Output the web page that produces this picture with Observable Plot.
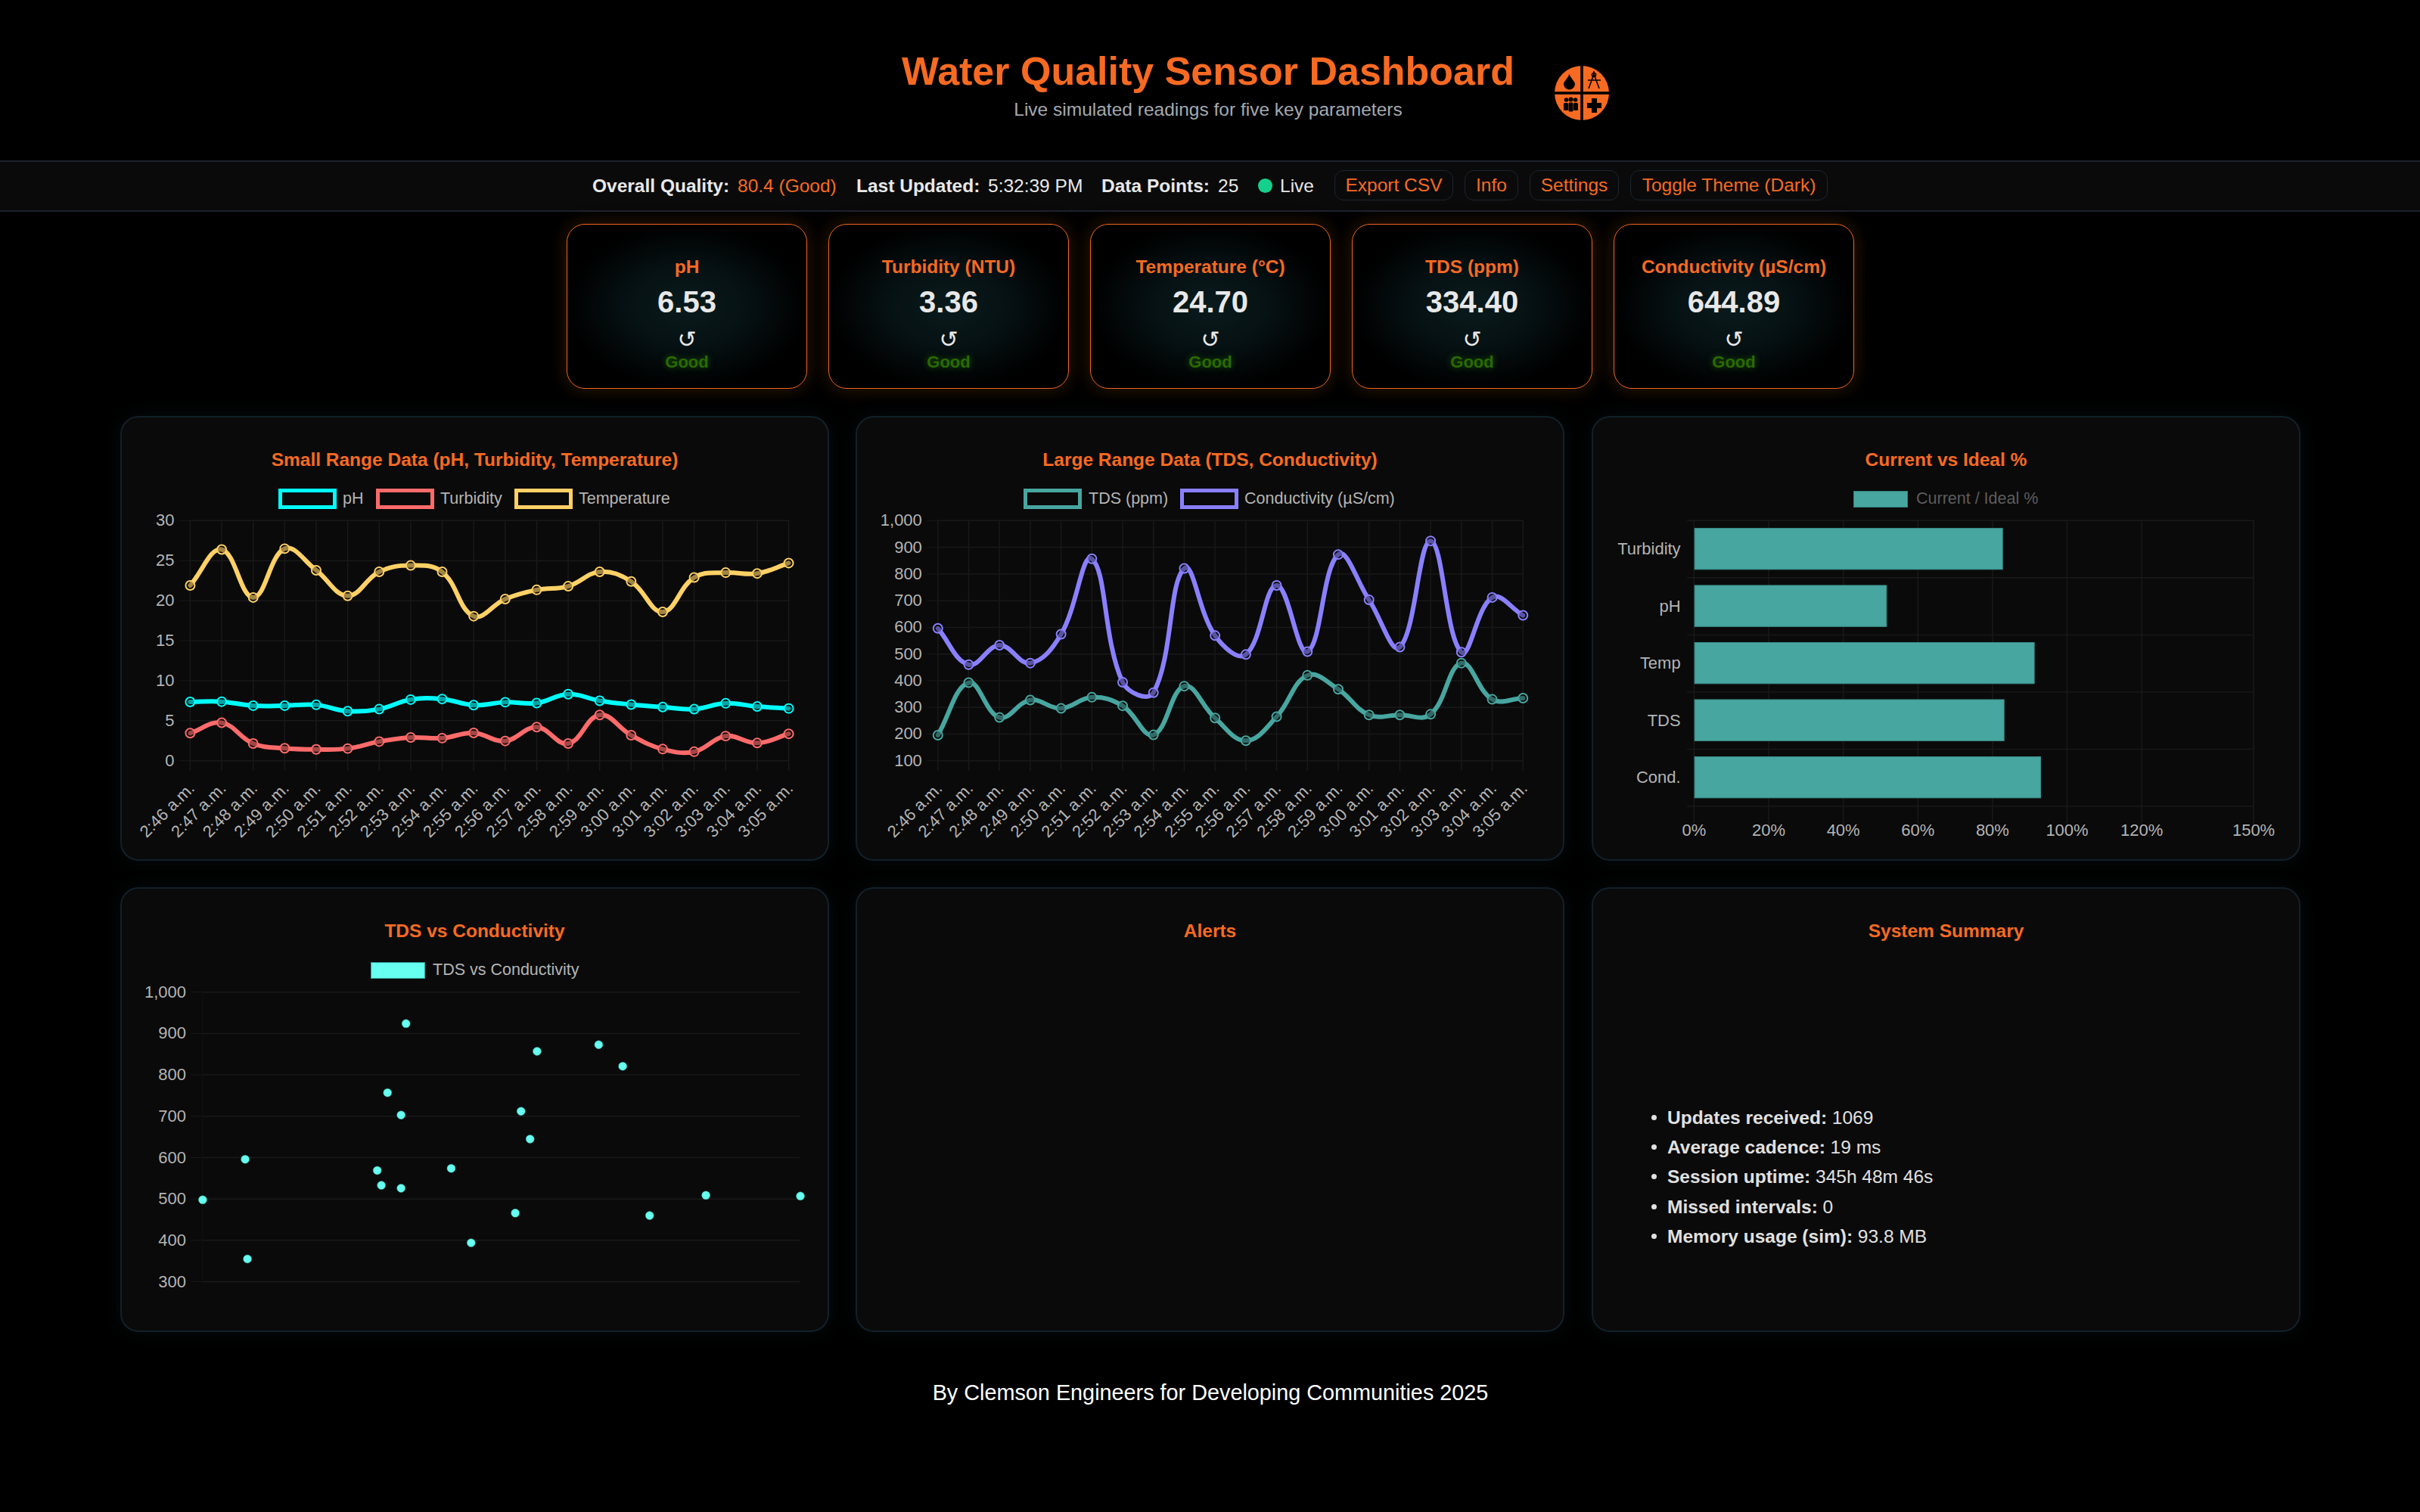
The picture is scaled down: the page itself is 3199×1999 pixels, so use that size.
<!DOCTYPE html>
<html lang="en"><head><meta charset="utf-8"><title>Water Quality Sensor Dashboard</title>
<script src="https://cdn.jsdelivr.net/npm/d3@7"></script>
<script src="https://cdn.jsdelivr.net/npm/@observablehq/plot@0.6"></script>
<style>
html,body{margin:0;background:#000;font-family:"Liberation Sans",Arial,sans-serif;color:#e8e8e8}
#page{position:relative;width:3199px;height:1999px;overflow:hidden;background:#000}
.abs{position:absolute}
.c{position:absolute;transform:translate(-50%,-50%);white-space:nowrap}
.l{position:absolute;transform:translateY(-50%);white-space:nowrap}
h1{margin:0;font-size:52px;font-weight:700;color:#f76a22}
#bar{position:absolute;left:0;top:212px;width:3199px;height:64px;background:#0a0a0a;border-top:2px solid #1c222c;border-bottom:2px solid #1c222c}
.t{font-size:24.5px;color:#e8e8e8}.b{font-weight:700}.o{color:#f76a22}
.btn{position:absolute;top:225px;height:38px;border:1.5px solid #1d2530;border-radius:12px;background:#0a0a0a;color:#f76a22;font-size:24.5px;display:flex;align-items:center;justify-content:center}
.card{position:absolute;top:296px;width:316px;height:216px;border:1.5px solid #ee661e;border-radius:24px;background:radial-gradient(closest-side,#0a1b1d 0%,#061113 50%,#000 100%);box-shadow:0 0 24px rgba(190,100,0,.26)}
.card .n{left:50%;top:56px;font-size:24.5px;font-weight:700;color:#f76a22}
.card .v{left:50%;top:102px;font-size:40px;font-weight:700;color:#e8e8e8}
.card .r{left:50%;top:151px;font-size:30px;font-family:"DejaVu Sans";color:#e8e8e8}
.card .g{left:50%;top:182px;font-size:22px;font-weight:700;color:#2a6a00;text-shadow:0 0 8px rgba(60,160,0,.5)}
.panel{position:absolute;width:933px;height:584px;background:#0a0a0a;border:2px solid #12202a;border-radius:24px;box-shadow:0 0 26px rgba(40,90,100,.14)}
.ptitle{position:absolute;left:50%;transform:translate(-50%,-50%);top:56px;font-size:24.5px;font-weight:700;color:#f76a22;white-space:nowrap}
.plot{position:absolute;left:-1px;top:-1px}
.plot svg{display:block;overflow:visible}
.sw{position:absolute;box-sizing:border-box}
.lg{position:absolute;transform:translateY(-50%);font-size:21.5px;color:#b4b4b4;white-space:nowrap}
ul.sum{position:absolute;left:2150px;top:1458px;margin:0;padding:0;list-style:none;font-size:24.5px;color:#e0e0e0}
ul.sum li{position:relative;height:39.2px;line-height:39.2px;padding-left:54px;white-space:nowrap}
ul.sum li:before{content:"";position:absolute;left:33px;top:16px;width:7px;height:7px;border-radius:50%;background:#e0e0e0}
</style></head><body><div id="page">
<div class="c" style="left:1597px;top:94px"><h1>Water Quality Sensor Dashboard</h1></div>
<div class="c" style="left:1597px;top:145px;font-size:24.5px;color:#a4a9b0">Live simulated readings for five key parameters</div>
<svg class="abs" style="left:2053px;top:85px" width="76" height="76" viewBox="-38 -38 76 76" aria-hidden="true">
<circle r="36" fill="#f76a22"/><rect x="-38" y="-1.8" width="76" height="3.6" fill="#000"/><rect x="-1.8" y="-38" width="3.6" height="76" fill="#000"/>
<path d="M-16.5-25C-14-19-9-15-9-12A7.5 7.5 0 0 1-24-12C-24-15-19-19-16.5-25Z" fill="#000"/>
<path d="M16-29V-25M16-25L9-6M16-25L23-6M8-17H25" stroke="#000" stroke-width="1.6" fill="none"/><circle cx="16" cy="-24" r="2.6" fill="none" stroke="#000" stroke-width="1.4"/>
<g fill="#000"><circle cx="-20.5" cy="9" r="2.8"/><circle cx="-14.5" cy="8.5" r="3"/><circle cx="-8.5" cy="9" r="2.8"/><rect x="-24" y="13" width="6" height="10" rx="1.5"/><rect x="-17.5" y="12.5" width="6" height="12" rx="1.5"/><rect x="-11" y="13" width="6" height="10" rx="1.5"/>
<path d="M13 7H20V13H26V20H20V26H13V20H7V13H13Z"/></g></svg>
<div id="bar"></div>
<div class="l t b" style="left:783px;top:246px">Overall Quality:</div><div class="l t o" style="left:975px;top:246px">80.4 (Good)</div>
<div class="l t b" style="left:1132px;top:246px">Last Updated:</div><div class="l t" style="left:1306px;top:246px">5:32:39 PM</div>
<div class="l t b" style="left:1456px;top:246px">Data Points:</div><div class="l t" style="left:1610px;top:246px">25</div>
<div class="abs" style="left:1663px;top:236px;width:19px;height:19px;border-radius:50%;background:#14d08c"></div>
<div class="l t" style="left:1692px;top:246px">Live</div>
<div class="btn" style="left:1764px;width:155px">Export CSV</div><div class="btn" style="left:1936px;width:69px">Info</div>
<div class="btn" style="left:2022px;width:116px">Settings</div><div class="btn" style="left:2155px;width:259px">Toggle Theme (Dark)</div>
<div id="cards"></div>
<div class="panel" style="left:159px;top:550px"><div class="ptitle">Small Range Data (pH, Turbidity, Temperature)</div><div class="plot" id="p1"></div></div>
<div class="panel" style="left:1131px;top:550px"><div class="ptitle">Large Range Data (TDS, Conductivity)</div><div class="plot" id="p2"></div></div>
<div class="panel" style="left:2104px;top:550px"><div class="ptitle">Current vs Ideal %</div><div class="plot" id="p3"></div></div>
<div class="panel" style="left:159px;top:1173px"><div class="ptitle">TDS vs Conductivity</div><div class="plot" id="p4"></div></div>
<div class="panel" style="left:1131px;top:1173px"><div class="ptitle">Alerts</div></div>
<div class="panel" style="left:2104px;top:1173px"><div class="ptitle">System Summary</div></div>
<div id="legends"></div>
<ul class="sum"><li><b>Updates received:</b> 1069</li><li><b>Average cadence:</b> 19 ms</li><li><b>Session uptime:</b> 345h 48m 46s</li><li><b>Missed intervals:</b> 0</li><li><b>Memory usage (sim):</b> 93.8 MB</li></ul>
<div class="c" style="left:1600px;top:1841px;font-size:28.8px;color:#fff">By Clemson Engineers for Developing Communities 2025</div>
</div>
<script>
const times = ["2:46 a.m.","2:47 a.m.","2:48 a.m.","2:49 a.m.","2:50 a.m.","2:51 a.m.","2:52 a.m.","2:53 a.m.","2:54 a.m.","2:55 a.m.","2:56 a.m.","2:57 a.m.","2:58 a.m.","2:59 a.m.","3:00 a.m.","3:01 a.m.","3:02 a.m.","3:03 a.m.","3:04 a.m.","3:05 a.m."];
const ph = [7.35,7.38,6.88,6.88,6.98,6.19,6.44,7.64,7.71,6.95,7.31,7.2,8.32,7.49,7.02,6.7,6.44,7.17,6.77,6.53];
const turbidity = [3.44,4.74,2.14,1.56,1.41,1.52,2.39,2.9,2.82,3.47,2.46,4.2,2.14,5.72,3.18,1.45,1.12,3.08,2.21,3.36];
const temperature = [21.9,26.4,20.4,26.5,23.8,20.6,23.6,24.4,23.6,18.06,20.2,21.35,21.8,23.6,22.4,18.6,22.9,23.5,23.4,24.7];
const tds = [195.7,392.6,262,327.2,296,337.8,305.7,196.8,379.5,260,175,265,420,367.8,271.6,271.6,274,466,330,334.4];
const conductivity = [596,460,533,466,574,857,394,355,821,569,498,757,509,873,703,526,924,507,712,644.89];
const barCategories = ["Turbidity","pH","Temp","TDS","Cond."];
const barValues = [82.8,51.7,91.3,83.2,93];
const barTicks = [0,20,40,60,80,100,120,150];
const smallTicks = [0,5,10,15,20,25,30];
const largeTicks = [100,200,300,400,500,600,700,800,900,1000];
const scatterTicks = [300,400,500,600,700,800,900,1000];
const cards = [["pH","6.53"],["Turbidity (NTU)","3.36"],["Temperature (°C)","24.70"],["TDS (ppm)","334.40"],["Conductivity (µS/cm)","644.89"]];

const GRID="#191919",TEXT="#b4b4b4",FONT='"Liberation Sans",Arial,sans-serif';
const colors={ph:"#00ffff",turbidity:"#ff6b6b",temperature:"#ffd166",tds:"#48a6a0",conductivity:"#8a80ff",scatter:"#66fff0"};

// Chart.js-style bezier spline (tension 0.4), applied by Plot in pixel space
function splineCurve(ctx){let p=[];return{
 areaStart(){},areaEnd(){},lineStart(){p=[]},point(x,y){p.push([+x,+y])},
 lineEnd(){const T=.4,n=p.length;if(!n)return;const cp=p.map((c,i)=>{const a=p[Math.max(i-1,0)],b=p[Math.min(i+1,n-1)];
   const d1=Math.hypot(c[0]-a[0],c[1]-a[1]),d2=Math.hypot(b[0]-c[0],b[1]-c[1]),s=d1+d2||1,f1=T*d1/s,f2=T*d2/s;
   return[[c[0]-f1*(b[0]-a[0]),c[1]-f1*(b[1]-a[1])],[c[0]+f2*(b[0]-a[0]),c[1]+f2*(b[1]-a[1])]]});
   ctx.moveTo(p[0][0],p[0][1]);for(let i=1;i<n;i++)ctx.bezierCurveTo(cp[i-1][1][0],cp[i-1][1][1],cp[i][0][0],cp[i][0][1],p[i][0],p[i][1]);}
}}
const style={background:"transparent",fontFamily:FONT,fontSize:"21px",overflow:"visible"};
const W=935,H=586;

function lineChart(id,series,domain,yTicks,low,mL,mR,fmt){
 const marks=[
  Plot.ruleY(yTicks,{stroke:GRID,strokeWidth:1.5}),
  Plot.ruleX(times,{y1:low,y2:domain[1],stroke:GRID,strokeWidth:1.5}),
  Plot.axisY({ticks:yTicks,tickSize:14,tickPadding:7,stroke:GRID,fill:TEXT,tickFormat:fmt,label:null,fontSize:22}),
  Plot.axisX({ticks:times,tickSize:0,tickRotate:-45,textAnchor:"end",lineAnchor:"middle",tickPadding:33,fill:TEXT,label:null,fontSize:22,dx:2}),
 ];
 for(const [v,c] of series){
  marks.push(Plot.line(times,{x:d=>d,y:(d,i)=>v[i],stroke:c,strokeWidth:6,curve:splineCurve}));
  marks.push(Plot.dot(times,{x:d=>d,y:(d,i)=>v[i],r:6,stroke:c,strokeWidth:2,fill:"#0a0a0a",fillOpacity:.38}));
 }
 const el=Plot.plot({width:W,height:H,marginTop:137,marginBottom:131.3,marginLeft:mL,marginRight:mR,style,
  x:{type:"point",domain:times,padding:0,round:false,axis:null},y:{domain,axis:null},marks});
 document.getElementById(id).append(el);
}
lineChart("p1",[[ph,colors.ph],[turbidity,colors.turbidity],[temperature,colors.temperature]],[0,30],smallTicks,-1.3,91,52,d3.format(","));
lineChart("p2",[[tds,colors.tds],[conductivity,colors.conductivity]],[100,1000],largeTicks,60,107.4,53.3,d3.format(","));

// Current vs ideal bars: rows are index positions so grid lines can sit on the row borders
document.getElementById("p3").append(Plot.plot({width:W,height:H,marginTop:137,marginBottom:71,marginLeft:134,marginRight:60.5,style,
 x:{domain:[0,150],axis:null},y:{domain:[0,5],reverse:true,axis:null},
 marks:[
  Plot.ruleX(barTicks,{y1:0,y2:5.36,stroke:GRID,strokeWidth:1.5}),
  Plot.ruleY(d3.range(6),{x1:-1.75,x2:150,stroke:GRID,strokeWidth:1.5}),
  Plot.rectX(barValues,{x1:.25,x2:d=>d,y1:(d,i)=>i+.14,y2:(d,i)=>i+.86,fill:colors.tds,stroke:"#3b8f8a",strokeWidth:1,inset:0}),
  Plot.text(barCategories,{x:-3.6,y:(d,i)=>i+.5,text:d=>d,textAnchor:"end",fill:TEXT,fontSize:22,lineAnchor:"middle"}),
  Plot.axisX({ticks:barTicks,tickSize:0,tickPadding:23,fill:TEXT,tickFormat:d=>d+"%",label:null,fontSize:22,anchor:"bottom"})
 ]}));

// TDS vs conductivity scatter
document.getElementById("p4").append(Plot.plot({width:W,height:H,marginTop:137.4,marginBottom:65.4,marginLeft:107.5,marginRight:36.5,style,
 x:{domain:d3.extent(tds),axis:null},y:{domain:[300,1000],axis:null},
 marks:[
  Plot.ruleY(scatterTicks,{stroke:GRID,strokeWidth:1.5}),
  Plot.ruleX([d3.min(tds)],{stroke:"#111",strokeWidth:1.5}),
  Plot.axisY({ticks:scatterTicks,tickSize:15,tickPadding:7,stroke:GRID,fill:TEXT,tickFormat:d3.format(","),label:null,fontSize:22}),
  Plot.dot(tds,{x:d=>d,y:(d,i)=>conductivity[i],r:5.5,fill:colors.scatter,stroke:"#2f9f95",strokeWidth:.5})
 ]}));

// KPI cards
const cardsEl=document.getElementById("cards");
cards.forEach(([n,v],i)=>{const d=document.createElement("div");d.className="card";d.style.left=(749+346*i)+"px";
 d.innerHTML=`<div class="c n">${n}</div><div class="c v">${v}</div><div class="c r">↺</div><div class="c g">Good</div>`;cardsEl.append(d);});

// Legends
const lgEl=document.getElementById("legends");
function lg(x,y,w,h,c,filled,label,tx,tc,edge){
 const s=document.createElement("div");s.className="sw";s.style.cssText=`left:${x}px;top:${y}px;width:${w}px;height:${h}px;`+(filled?`background:${c};border:1.5px solid ${edge}`:`border:5px solid ${c};background:#0a0a0a`);lgEl.append(s);
 const t=document.createElement("div");t.className="lg";t.textContent=label;t.style.cssText=`left:${tx}px;top:${y+h/2-1}px;`+(tc?`color:${tc}`:"");lgEl.append(t);}
lg(368,646,77,27,colors.ph,false,"pH",453);
lg(497,646,77,27,colors.turbidity,false,"Turbidity",582);
lg(680,646,77,27,colors.temperature,false,"Temperature",765);
lg(1353,646,77,27,colors.tds,false,"TDS (ppm)",1439);
lg(1560,646,77,27,colors.conductivity,false,"Conductivity (µS/cm)",1645);
lg(2450,649,72,22,colors.tds,true,"Current / Ideal %",2533,"#5c5c5c","#357f7b");
lg(490,1272,72,22,colors.scatter,true,"TDS vs Conductivity",572,"","#2f9f95");
</script></body></html>
